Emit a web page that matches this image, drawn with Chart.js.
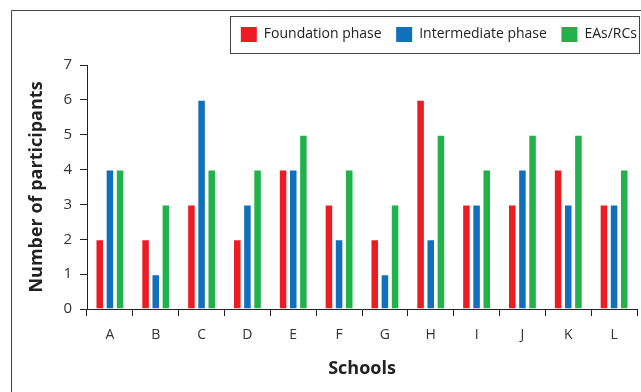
<!DOCTYPE html>
<html>
<head>
<meta charset="utf-8">
<script src="https://cdn.jsdelivr.net/npm/chart.js@4.4.0/dist/chart.umd.min.js"></script>
<style>
  html, body { margin: 0; padding: 0; background: #fff; }
  #wrap { width: 641px; height: 392px; }
</style>
</head>
<body>
<div id="wrap"><canvas id="schoolsChart" width="641" height="392"></canvas></div>
<script>
// chart data
const schools = ["A", "B", "C", "D", "E", "F", "G", "H", "I", "J", "K", "L"];
const foundationPhase = [2, 2, 3, 2, 4, 3, 2, 6, 3, 3, 4, 3];
const intermediatePhase = [4, 1, 6, 3, 4, 2, 1, 2, 3, 4, 3, 3];
const easRcs = [4, 3, 4, 4, 5, 4, 3, 5, 4, 5, 5, 4];
const seriesNames = ["Foundation phase", "Intermediate phase", "EAs/RCs"];
const seriesColors = ["#ED1C24", "#1170BB", "#21B24B"];

const fontFamily = "'Open Sans', 'Noto Sans', sans-serif";

// empty layout box that keeps a gap between the legend and the plot
const spacerPlugin = {
  id: "legendGap",
  start(chart) {
    Chart.layouts.addBox(chart, {
      position: "top",
      weight: 500,
      fullSize: true,
      options: {},
      isHorizontal() { return true; },
      update(maxWidth) { this.width = maxWidth; this.height = 13; },
      draw() {}
    });
  }
};

// frame round the whole figure and box round the legend
const framePlugin = {
  id: "frame",
  beforeDraw(chart) {
    const ctx = chart.ctx;
    ctx.save();
    ctx.strokeStyle = "#444";
    ctx.lineWidth = 1;
    ctx.beginPath();
    ctx.moveTo(11.5, chart.height + 2);
    ctx.lineTo(11.5, 10.5);
    ctx.lineTo(chart.width + 2, 10.5);
    ctx.stroke();
    ctx.restore();
  },
  afterDraw(chart) {
    const boxes = chart.legend.legendHitBoxes;
    if (!boxes || !boxes.length) return;
    const first = boxes[0];
    const last = boxes[boxes.length - 1];
    const ctx = chart.ctx;
    ctx.save();
    ctx.strokeStyle = "#444";
    ctx.lineWidth = 1;
    const x0 = Math.round(first.left - 11) + 0.5;
    const y0 = Math.round(first.top - 11) + 0.5;
    const x1 = Math.round(last.left + last.width + 2) + 0.5;
    const y1 = Math.round(first.top + first.height + 11) + 0.5;
    ctx.strokeRect(x0, y0, x1 - x0, y1 - y0);
    ctx.restore();
  }
};

const ctx = document.getElementById("schoolsChart").getContext("2d");
const chart = new Chart(ctx, {
  type: "bar",
  data: {
    labels: schools,
    datasets: [foundationPhase, intermediatePhase, easRcs].map((values, i) => ({
      label: seriesNames[i],
      data: values,
      backgroundColor: seriesColors[i],
      borderColor: "rgba(255,255,255,0.5)",
      borderWidth: 1,
      categoryPercentage: 0.665,
      barPercentage: 0.84
    }))
  },
  options: {
    responsive: false,
    animation: false,
    devicePixelRatio: 1,
    layout: { padding: { top: 27, left: 22, right: 4, bottom: 0 } },
    plugins: {
      legend: {
        position: "top",
        align: "end",
        labels: {
          boxWidth: 16,
          boxHeight: 15,
          padding: 0,
          color: "#222",
          font: { family: fontFamily, size: 14 },
          // spacing between entries comes from trailing spaces
          generateLabels(chart) {
            const items = Chart.defaults.plugins.legend.labels.generateLabels(chart);
            items.forEach((item, i) => {
              item.lineWidth = 0;
              if (i < items.length - 1) item.text = item.text + "    ";
            });
            return items;
          }
        }
      },
      tooltip: { enabled: false }
    },
    scales: {
      x: {
        afterFit(scale) { scale.height = 83; },
        grid: {
          offset: true,
          drawOnChartArea: false,
          drawTicks: true,
          tickLength: 7,
          color: "#222"
        },
        border: { display: true, color: "#222", width: 1 },
        ticks: {
          color: "#333",
          padding: 11,
          font: { family: fontFamily, size: 14 }
        },
        title: {
          display: true,
          text: "Schools",
          color: "#222",
          padding: { top: 8, bottom: 12 },
          font: { family: fontFamily, size: 18, weight: "bold" }
        }
      },
      y: {
        min: 0,
        max: 7,
        afterFit(scale) { scale.width = 65; },
        grid: {
          drawOnChartArea: false,
          drawTicks: true,
          tickLength: 7,
          color: "#222"
        },
        border: { display: true, color: "#222", width: 1 },
        ticks: {
          stepSize: 1,
          color: "#333",
          padding: 8,
          font: { family: fontFamily, size: 15 }
        },
        title: {
          display: true,
          text: "Number of participants",
          color: "#222",
          padding: { top: 4, bottom: 0 },
          font: { family: fontFamily, size: 18, weight: "bold" }
        }
      }
    }
  },
  plugins: [spacerPlugin, framePlugin]
});
</script>
</body>
</html>
